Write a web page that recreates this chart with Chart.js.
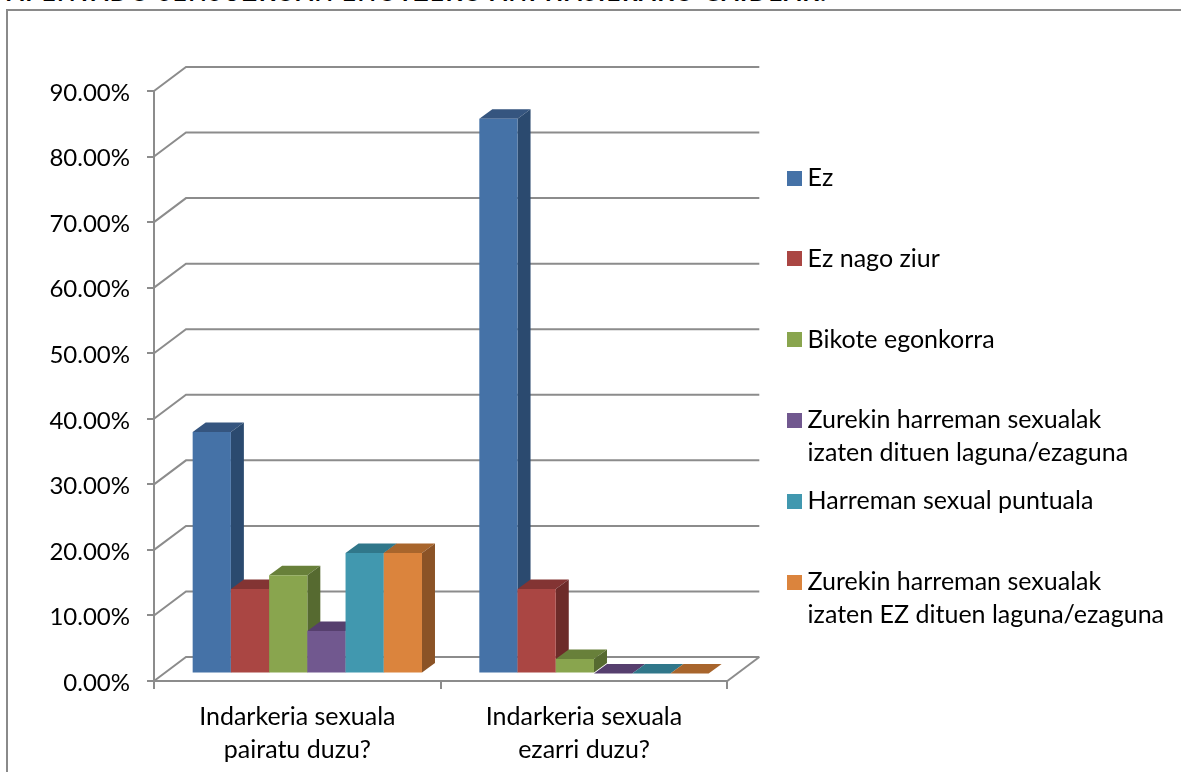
<!DOCTYPE html>
<html><head><meta charset="utf-8">
<style>
html,body{margin:0;padding:0;background:#fff;overflow:hidden}
#wrap{position:relative;width:1181px;height:772px;overflow:hidden}
#title{position:absolute;left:7px;top:-23px;font:bold 24px Lato;color:#000;white-space:nowrap;letter-spacing:1.6px}
#frame{position:absolute;left:6px;top:9px;width:1300px;height:900px;border:2px solid #8a8a8a;box-sizing:border-box}
canvas{position:absolute;left:0;top:0}
</style>
</head><body>
<div id="wrap">
<div id="title">APENTADO SENSUZKOAN ENOTZEKO ANI HASIERAKO GAIDEAK.</div>
<div id="frame"></div>
<canvas id="c" width="1181" height="772"></canvas>
</div>
<script src="https://cdn.jsdelivr.net/npm/chart.js@4/dist/chart.umd.min.js"></script>
<script>
const categories = [['Indarkeria sexuala','pairatu duzu?'],['Indarkeria sexuala','ezarri duzu?']];
const seriesNames = [['Ez',''],['Ez nago ziur',''],['Bikote egonkorra',''],
  ['Zurekin harreman sexualak','izaten dituen laguna/ezaguna'],['Harreman sexual puntuala',''],
  ['Zurekin harreman sexualak','izaten EZ dituen laguna/ezaguna']];
const ez = [36.84, 84.62];
const ezNagoZiur = [12.9, 12.9];
const bikoteEgonkorra = [15.0, 2.2];
const laguna = [6.5, 0];
const puntuala = [18.4, 0];
const ezLaguna = [18.4, 0];
const seriesValues = [ez, ezNagoZiur, bikoteEgonkorra, laguna, puntuala, ezLaguna];
const frontColors = ['#4572a7','#aa4643','#89a54e','#71588f','#4198af','#db843d'];
const topColors   = ['#35557f','#833433','#68803a','#563f6e','#30778a','#a8652c'];
const sideColors  = ['#2b4a6f','#6d2b29','#566a30','#47345c','#28606f','#8b5326'];
const axisColor = '#8c8c8c';
const fontFamily = 'Lato';
const fontSize = 25;
const lineH = 33;

const wallDx = 32, wallDy = -24;   // depth of the floor/back wall
const barDx = 10, barDy = -7.5;    // bars stand this far into the floor
const depthDx = 13, depthDy = -9.5;// bar thickness in depth

function swatch(color){
  const s = document.createElement('canvas');
  s.width = 15; s.height = 15;
  const g = s.getContext('2d');
  g.fillStyle = color; g.fillRect(0,0,15,15);
  return s;
}

let painting = false;
const box3d = {
  id:'box3d',
  afterLayout(chart){ chart.legend.bottom -= 62; },
  beforeDatasetsDraw(chart){
    const {ctx,scales:{x,y}} = chart;
    ctx.save();
    ctx.strokeStyle = axisColor; ctx.lineWidth = 2;
    const l = x.left, r = x.right;
    for (const t of y.ticks){
      const p = y.getPixelForValue(t.value);
      ctx.beginPath();
      ctx.moveTo(l,p); ctx.lineTo(l+wallDx,p+wallDy); ctx.lineTo(r+wallDx,p+wallDy);
      ctx.stroke();
    }
    const b = y.getPixelForValue(0);
    ctx.beginPath(); ctx.moveTo(r,b); ctx.lineTo(r+wallDx,b+wallDy); ctx.stroke();
    ctx.restore();
  },
  // the library paints the last series first; a 3D row needs the first series first
  beforeDatasetDraw(){ return painting; },
  afterDatasetsDraw(chart){
    const {ctx} = chart;
    painting = true;
    chart.data.datasets.forEach((d,i)=>{
      const meta = chart.getDatasetMeta(i);
      ctx.save();
      ctx.translate(barDx,barDy);
      for (const bar of meta.data){
        const hw = bar.width/2, x0 = bar.x-hw, x1 = bar.x+hw, t = bar.y, b = bar.base;
        ctx.fillStyle = topColors[i];
        ctx.beginPath();
        ctx.moveTo(x0,t); ctx.lineTo(x1,t); ctx.lineTo(x1+depthDx,t+depthDy); ctx.lineTo(x0+depthDx,t+depthDy);
        ctx.closePath(); ctx.fill();
        if (b-t>0){
          ctx.fillStyle = sideColors[i];
          ctx.beginPath();
          ctx.moveTo(x1,t); ctx.lineTo(x1+depthDx,t+depthDy); ctx.lineTo(x1+depthDx,b+depthDy); ctx.lineTo(x1,b);
          ctx.closePath(); ctx.fill();
        }
      }
      meta.controller.draw();
      ctx.restore();
    });
    painting = false;
  }
};

new Chart(document.getElementById('c'),{
  type:'bar',
  data:{
    labels:categories,
    datasets:seriesValues.map((v,i)=>({
      label:seriesNames[i].join(' ').trim(),
      data:v,
      backgroundColor:frontColors[i],
      borderWidth:0,
      clip:false
    }))
  },
  options:{
    responsive:false,
    animation:false,
    events:[],
    layout:{padding:{top:91,left:0,right:7,bottom:0}},
    datasets:{bar:{categoryPercentage:0.8,barPercentage:1}},
    plugins:{
      tooltip:{enabled:false},
      title:{display:false},
      legend:{
        position:'right',
        align:'center',
        maxWidth:440,
        labels:{
          padding:14.8,
          usePointStyle:true,
          pointStyleWidth:1,
          color:'#000',
          font:{family:fontFamily,size:fontSize,lineHeight:lineH+'px'},
          generateLabels(chart){
            return chart.data.datasets.map((d,i)=>({
              text:seriesNames[i],
              fillStyle:frontColors[i],
              strokeStyle:frontColors[i],
              lineWidth:0,
              pointStyle:swatch(frontColors[i]),
              datasetIndex:i,
              fontColor:'#000'
            }));
          }
        }
      }
    },
    scales:{
      x:{
        grid:{display:true,drawOnChartArea:false,drawTicks:true,tickLength:8,offset:true,color:axisColor,lineWidth:2},
        border:{color:axisColor,width:2},
        ticks:{color:'#000',padding:11,maxRotation:0,autoSkip:false,font:{family:fontFamily,size:fontSize,lineHeight:lineH+'px'}},
        afterFit(s){s.height=91;}
      },
      y:{
        min:0,max:90,
        grid:{display:true,drawOnChartArea:false,drawTicks:true,tickLength:7,color:axisColor,lineWidth:2},
        border:{color:axisColor,width:2},
        ticks:{stepSize:10,color:'#000',padding:17,labelOffset:2,font:{family:fontFamily,size:24},callback:v=>v.toFixed(2)+'%'},
        afterFit(s){s.width=154;}
      },
      gap:{
        position:'right',min:0,max:1,
        grid:{display:false},border:{display:false},
        ticks:{display:false},
        afterFit(s){s.width=52;}
      }
    }
  },
  plugins:[box3d]
});
</script>
</body></html>
